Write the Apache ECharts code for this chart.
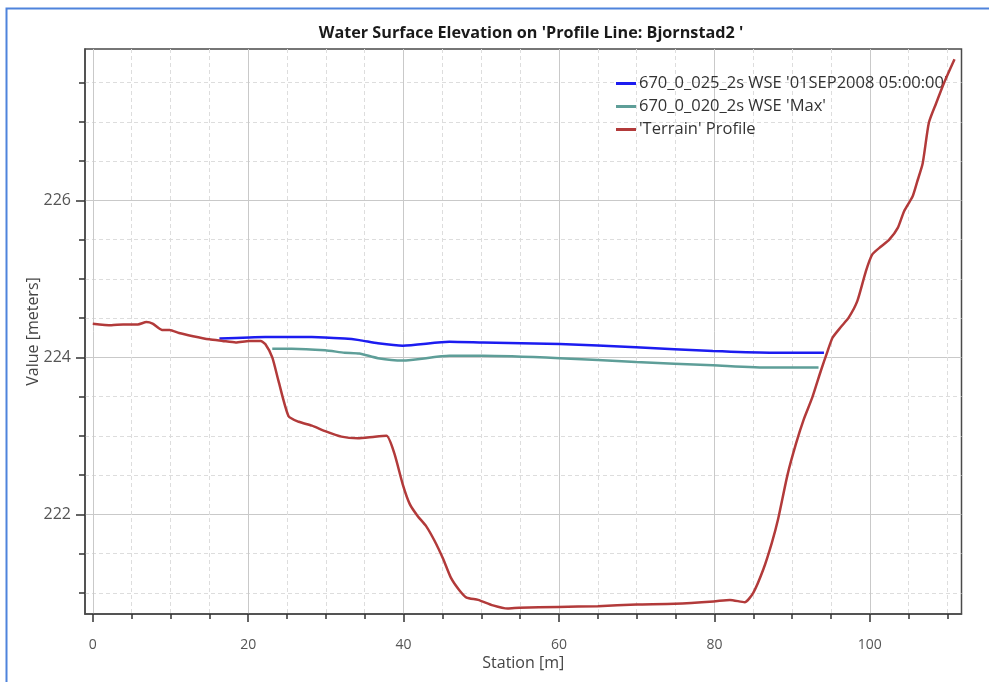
<!DOCTYPE html>
<html>
<head>
<meta charset="utf-8">
<script src="https://cdn.jsdelivr.net/npm/echarts@6/dist/echarts.min.js"></script>
<style>
html,body{margin:0;padding:0;background:#fff;}
#chart{width:989px;height:682px;}
</style>
</head>
<body>
<div id="chart"></div>
<script>
var titleText = "Water Surface Elevation on 'Profile Line: Bjornstad2 '";
var seriesNames = ["670_0_025_2s WSE '01SEP2008 05:00:00'", "670_0_020_2s WSE 'Max'", "'Terrain' Profile"];
var xTickValues = [0, 20, 40, 60, 80, 100];
var yTickValues = [222, 224, 226];

var terrainStation = [0, 2.4, 3.9, 5.8, 6.9, 7.7, 8.9, 9.9, 11.1, 12.9, 15.0, 16.7, 18.4, 20.1, 21.6, 22.2, 23.1, 23.9, 25.2, 26.5, 28.2, 29.9, 32.0, 34.1, 36.3, 37.8, 38.8, 39.9, 40.8, 41.8, 42.9, 44.0, 45.1, 46.1, 47.2, 48.1, 49.6, 51.5, 53.4, 54.9, 59.9, 65.0, 70.0, 74.9, 79.9, 82.0, 83.9, 85.0, 86.3, 87.4, 88.2, 89.4, 90.5, 91.5, 92.6, 93.7, 94.5, 95.2, 96.3, 97.3, 98.4, 99.5, 100.3, 101.4, 102.5, 103.6, 104.4, 105.5, 106.1, 106.8, 107.6, 108.5, 109.6, 110.9];
var terrainElev = [224.43, 224.41, 224.42, 224.42, 224.45, 224.43, 224.35, 224.35, 224.31, 224.27, 224.23, 224.21, 224.19, 224.21, 224.21, 224.17, 224.00, 223.70, 223.25, 223.18, 223.13, 223.06, 222.99, 222.97, 222.99, 223.00, 222.78, 222.38, 222.13, 221.98, 221.85, 221.66, 221.43, 221.19, 221.03, 220.94, 220.91, 220.84, 220.80, 220.81, 220.82, 220.83, 220.85, 220.86, 220.89, 220.91, 220.88, 221.00, 221.30, 221.64, 221.94, 222.50, 222.90, 223.21, 223.49, 223.83, 224.06, 224.25, 224.39, 224.51, 224.72, 225.10, 225.31, 225.41, 225.50, 225.65, 225.86, 226.05, 226.24, 226.47, 226.99, 227.23, 227.51, 227.80];

var wseStation = [16.3, 22.2, 28.2, 32.4, 34.3, 36.7, 39.9, 45.9, 50.2, 60.1, 69.9, 79.8, 87.1, 94.1];
var wseElev = [224.24, 224.26, 224.26, 224.24, 224.22, 224.18, 224.15, 224.20, 224.19, 224.17, 224.13, 224.08, 224.06, 224.06];

var maxStation = [23.1, 25.6, 29.9, 32.4, 34.3, 36.7, 39.9, 45.9, 50.2, 60.1, 69.9, 79.8, 87.1, 93.4];
var maxElev = [224.11, 224.11, 224.09, 224.06, 224.05, 223.99, 223.96, 224.02, 224.02, 223.99, 223.94, 223.90, 223.87, 223.87];

function pairs(xs, ys) { return xs.map(function (x, i) { return [x, ys[i]]; }); }

var FONT = "Open Sans";
var chart = echarts.init(document.getElementById('chart'), null, {renderer: 'canvas'});
chart.setOption({
  animation: false,
  backgroundColor: '#ffffff',
  graphic: [{
    type: 'rect', silent: true, z: 0,
    shape: {x: 6.5, y: 8.5, width: 1000, height: 700},
    style: {fill: 'none', stroke: '#4f83dc', lineWidth: 2}
  }],
  title: {
    text: titleText,
    left: 526, top: 20, textAlign: 'center',
    textStyle: {fontFamily: FONT, fontWeight: 'bold', fontSize: 16.2, color: '#1a1a1a'}
  },
  legend: {
    orient: 'vertical', left: 611, top: 67,
    icon: 'rect', itemWidth: 20, itemHeight: 3, itemGap: 0,
    textStyle: {fontFamily: FONT, fontSize: 16.5, color: '#333', lineHeight: 23, padding: [0, 0, 0, -2]},
    data: seriesNames
  },
  grid: {
    left: 85, right: 27.5, top: 49, bottom: 68,
    show: true, borderColor: '#4a4a4a', borderWidth: 1.5
  },
  xAxis: {
    type: 'value', min: -1, max: 111.8, splitNumber: 5,
    name: 'Station [m]', nameLocation: 'middle', nameGap: 41, nameMoveOverlap: false,
    nameTextStyle: {fontFamily: FONT, fontSize: 16, color: '#444'},
    axisLine: {show: true, onZero: false, lineStyle: {color: '#4a4a4a', width: 1.5}},
    axisTick: {show: true, length: 8, customValues: xTickValues, lineStyle: {color: '#333', width: 1.5}},
    minorTick: {show: true, splitNumber: 4, length: 5, lineStyle: {color: '#333', width: 1.5}},
    axisLabel: {customValues: xTickValues, margin: 24, fontFamily: FONT, fontSize: 14, color: '#555'},
    splitLine: {show: true, lineStyle: {color: '#c9c9c9', width: 1}},
    minorSplitLine: {show: true, lineStyle: {color: '#dddddd', width: 1, type: [4, 3]}}
  },
  yAxis: {
    type: 'value', min: 220.73, max: 227.93, splitNumber: 4,
    name: 'Value [meters]', nameLocation: 'middle', nameGap: 44, nameMoveOverlap: false,
    nameTextStyle: {fontFamily: FONT, fontSize: 16, color: '#444'},
    axisLine: {show: true, onZero: false, lineStyle: {color: '#4a4a4a', width: 1.5}},
    axisTick: {show: true, length: 9, customValues: yTickValues, lineStyle: {color: '#333', width: 1.5}},
    minorTick: {show: true, splitNumber: 4, length: 6, lineStyle: {color: '#333', width: 1.5}},
    axisLabel: {customValues: yTickValues, margin: 14, fontFamily: FONT, fontSize: 16, color: '#555'},
    splitLine: {show: true, lineStyle: {color: '#c9c9c9', width: 1}},
    minorSplitLine: {show: true, lineStyle: {color: '#dddddd', width: 1, type: [4, 3]}}
  },
  series: [
    {
      name: seriesNames[0], type: 'line', data: pairs(wseStation, wseElev),
      showSymbol: false, symbol: 'none', smooth: 0.2, z: 3,
      lineStyle: {color: '#1c1cf0', width: 2.5}, itemStyle: {color: '#1c1cf0'}
    },
    {
      name: seriesNames[1], type: 'line', data: pairs(maxStation, maxElev),
      showSymbol: false, symbol: 'none', smooth: 0.2, z: 3,
      lineStyle: {color: '#5e9e98', width: 2.5}, itemStyle: {color: '#5e9e98'}
    },
    {
      name: seriesNames[2], type: 'line', data: pairs(terrainStation, terrainElev),
      showSymbol: false, symbol: 'none', smooth: 0.2, z: 4,
      lineStyle: {color: '#b23a3a', width: 2.5}, itemStyle: {color: '#b23a3a'}
    }
  ]
});
</script>
</body>
</html>
